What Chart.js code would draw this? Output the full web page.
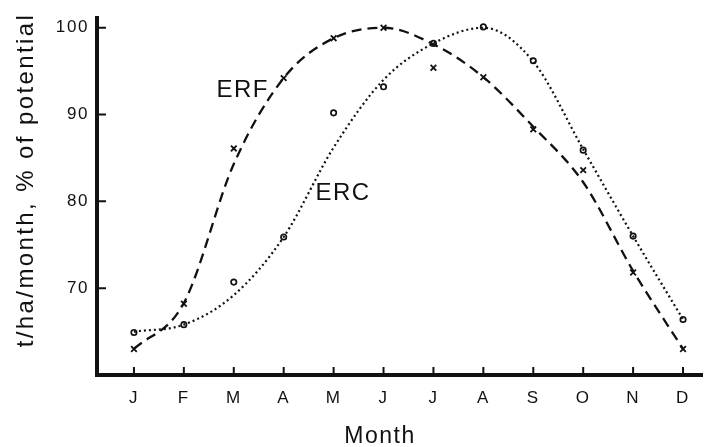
<!DOCTYPE html>
<html>
<head>
<meta charset="utf-8">
<script src="https://cdn.jsdelivr.net/npm/chart.js@4.4.1/dist/chart.umd.min.js"></script>
<style>
    html, body { margin: 0; padding: 0; background: #fff; }
    #wrap { width: 711px; height: 447px; }
</style>
</head>
<body>
<div id="wrap"><canvas id="yieldChart"></canvas></div>
<script>
// Monthly yield, % of potential
const months = ['J', 'F', 'M', 'A', 'M', 'J', 'J', 'A', 'S', 'O', 'N', 'D'];
const yTicks = [70, 80, 90, 100];

// observed values
const erfPoints = [63.0, 68.2, 86.1, 94.2, 98.8, 100.0, 95.4, 94.3, 88.3, 83.6, 71.8, 63.0];
const ercPoints = [64.9, 65.8, 70.7, 75.9, 90.2, 93.2, 98.2, 100.1, 96.2, 85.9, 76.0, 66.4];

// fitted curves
const erfCurve = [63.0, 68.3, 84.3, 94.2, 98.8, 100.0, 98.1, 94.3, 88.6, 82.2, 72.0, 63.0];
const ercCurve = [65.0, 65.8, 69.2, 75.9, 86.2, 94.0, 98.2, 100.0, 96.1, 86.0, 76.0, 66.4];

const INK = '#111';
const FONT = "'Liberation Sans', Arial, Helvetica, sans-serif";

function toXY(arr) {
    return arr.map((v, i) => ({ x: i, y: v }));
}

// tick marks point into the plot
const inwardTicks = {
    id: 'inwardTicks',
    afterDraw(chart) {
        const { ctx, chartArea, scales: { x, y } } = chart;
        ctx.save();
        ctx.strokeStyle = INK;
        ctx.lineWidth = 2;
        ctx.beginPath();
        x.ticks.forEach(t => {
            const px = x.getPixelForValue(t.value);
            ctx.moveTo(px, chartArea.bottom);
            ctx.lineTo(px, chartArea.bottom - 8);
        });
        y.ticks.forEach(t => {
            const py = y.getPixelForValue(t.value);
            ctx.moveTo(chartArea.left, py);
            ctx.lineTo(chartArea.left + 9, py);
        });
        ctx.stroke();
        ctx.restore();
    }
};

// wide lettering for all chart text
const spacing = {
    id: 'spacing',
    beforeDraw(chart) {
        chart.ctx.letterSpacing = '1.6px';
    }
};

// axis titles and curve names
const annotations = {
    id: 'annotations',
    afterDraw(chart) {
        const { ctx, scales: { x, y } } = chart;
        ctx.save();
        ctx.fillStyle = INK;
        ctx.textAlign = 'center';
        ctx.textBaseline = 'middle';

        ctx.letterSpacing = '1.5px';
        ctx.font = '24px ' + FONT;
        ctx.fillText('ERF', x.getPixelForValue(2.18), y.getPixelForValue(92.8));
        ctx.fillText('ERC', x.getPixelForValue(4.19), y.getPixelForValue(80.9));

        ctx.font = '23px ' + FONT;
        ctx.fillText('Month', 380, 437);

        ctx.letterSpacing = '2.4px';
        ctx.font = '24px ' + FONT;
        ctx.translate(26, 180);
        ctx.rotate(-Math.PI / 2);
        ctx.fillText('t/ha/month, % of potential', 0, 0);
        ctx.restore();
    }
};

new Chart(document.getElementById('yieldChart'), {
    type: 'line',
    data: {
        datasets: [
            {
                label: 'ERF fit',
                data: toXY(erfCurve),
                borderColor: INK,
                borderWidth: 2.3,
                borderDash: [10, 6],
                pointRadius: 0,
                cubicInterpolationMode: 'monotone',
                fill: false
            },
            {
                label: 'ERC fit',
                data: toXY(ercCurve),
                borderColor: INK,
                borderWidth: 2.2,
                borderDash: [2, 3],
                pointRadius: 0,
                cubicInterpolationMode: 'monotone',
                fill: false
            },
            {
                label: 'ERF',
                data: toXY(erfPoints),
                showLine: false,
                pointStyle: 'crossRot',
                pointRadius: 4,
                borderColor: INK,
                pointBorderWidth: 1.8
            },
            {
                label: 'ERC',
                data: toXY(ercPoints),
                showLine: false,
                pointStyle: 'circle',
                pointRadius: 2.7,
                backgroundColor: '#fff',
                borderColor: INK,
                pointBorderWidth: 1.7
            }
        ]
    },
    options: {
        responsive: true,
        maintainAspectRatio: false,
        animation: false,
        devicePixelRatio: 1,
        layout: { padding: { top: 13, right: 9, left: 0, bottom: 0 } },
        plugins: {
            legend: { display: false },
            tooltip: { enabled: false }
        },
        scales: {
            x: {
                type: 'linear',
                min: -0.74,
                max: 11.38,
                afterFit(scale) { scale.height = 72; },
                afterBuildTicks(scale) {
                    scale.ticks = months.map((m, i) => ({ value: i }));
                },
                grid: { display: true, drawOnChartArea: false, drawTicks: false },
                border: { display: true, color: INK, width: 4 },
                ticks: {
                    autoSkip: false,
                    maxRotation: 0,
                    padding: 13,
                    color: INK,
                    font: { family: FONT, size: 17 },
                    callback: v => months[v]
                }
            },
            y: {
                type: 'linear',
                min: 60,
                max: 101.1,
                afterFit(scale) { scale.width = 97; },
                afterBuildTicks(scale) {
                    scale.ticks = yTicks.map(v => ({ value: v }));
                },
                grid: { display: true, drawOnChartArea: false, drawTicks: false },
                border: { display: true, color: INK, width: 4 },
                ticks: {
                    padding: 8,
                    color: INK,
                    font: { family: FONT, size: 17 }
                }
            }
        }
    },
    plugins: [spacing, inwardTicks, annotations]
});
</script>
</body>
</html>
